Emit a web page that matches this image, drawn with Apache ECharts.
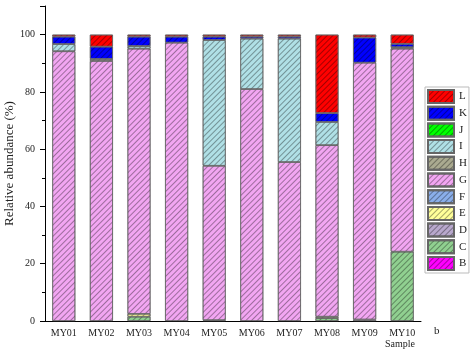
<!DOCTYPE html>
<html>
<head>
<meta charset="utf-8">
<script src="https://cdn.jsdelivr.net/npm/echarts@6/dist/echarts.min.js"></script>
<style>
  html, body { margin: 0; padding: 0; background: #fff; }
  #chart { width: 472px; height: 354px; }
</style>
</head>
<body>
<div id="chart"></div>
<script>
// samples along x
const samples = ['MY01', 'MY02', 'MY03', 'MY04', 'MY05', 'MY06', 'MY07', 'MY08', 'MY09', 'MY10'];

// relative abundance (%) per group, stacked bottom (B) to top (L)
const B = [0, 0, 0, 0, 0, 0, 0, 0, 0, 0];
const C = [0, 0, 1.5, 0, 0, 0, 0, 1.0, 0, 24.2];
const D = [0, 0, 0, 0, 0.3, 0, 0, 0, 0.5, 0];
const E = [0, 0, 1.0, 0, 0, 0, 0, 0.5, 0, 0];
const F = [0, 0, 0, 0, 0, 0, 0, 0, 0, 0];
const G = [94.2, 90.8, 92.6, 97.2, 53.9, 81.0, 55.5, 59.9, 89.7, 70.9];
const H = [0, 0.7, 0, 0, 0, 0, 0, 0, 0, 0.5];
const I = [2.5, 0, 0.9, 0, 43.9, 17.6, 43.1, 8.1, 0, 0];
const J = [0, 0, 0, 0, 0, 0, 0, 0, 0, 0];
const K = [2.6, 4.3, 3.3, 2.1, 1.2, 0.7, 0.7, 3.1, 8.8, 1.2];
const L = [0.7, 4.2, 0.7, 0.7, 0.7, 0.7, 0.7, 27.4, 1.0, 3.2];

const groups = [
  ['B', B, '#FF00FF'],
  ['C', C, '#90D090'],
  ['D', D, '#B8A8CC'],
  ['E', E, '#FFFF99'],
  ['F', F, '#8AAEEA'],
  ['G', G, '#F2A6F2'],
  ['H', H, '#AAAA90'],
  ['I', I, '#B0E0E6'],
  ['J', J, '#00FF00'],
  ['K', K, '#0000FF'],
  ['L', L, '#FF0000']
];

const font = 'Liberation Serif, Times New Roman, serif';

const hatch = {
  symbol: 'rect',
  symbolSize: 1,
  color: 'rgba(0,0,0,0.35)',
  dashArrayX: [1, 0],
  dashArrayY: [1, 3],
  rotation: -Math.PI / 4
};

const chart = echarts.init(document.getElementById('chart'));

chart.setOption({
  animation: false,
  backgroundColor: '#fff',
  grid: { left: 45, right: 51, top: 6, bottom: 33, outerBoundsMode: 'none' },
  legend: {
    orient: 'vertical',
    left: 425,
    top: 87,
    padding: [2, 2, 2, 2],
    borderColor: '#bbb',
    borderWidth: 1,
    icon: 'rect',
    itemWidth: 26,
    itemHeight: 13,
    itemGap: 1.7,
    itemTextGap: 4,
    textStyle: { fontFamily: font, fontSize: 11, color: '#222' },
    data: groups.map(g => g[0]).reverse()
  },
  xAxis: {
    type: 'category',
    data: samples,
    axisLine: { lineStyle: { color: '#000', width: 1 } },
    axisTick: { show: false },
    axisLabel: { interval: 0, fontFamily: font, fontSize: 10, color: '#222', margin: 7 }
  },
  yAxis: {
    type: 'value',
    min: 0,
    max: 110,
    interval: 20,
    name: 'Relative abundance (%)',
    nameLocation: 'middle',
    nameGap: 29,
    nameMoveOverlap: false,
    nameTextStyle: { fontFamily: font, fontSize: 13, color: '#222' },
    axisLine: { show: true, lineStyle: { color: '#000', width: 1 } },
    axisTick: { show: true, length: 5, lineStyle: { color: '#000' } },
    minorTick: { show: true, splitNumber: 2, length: 3, lineStyle: { color: '#000' } },
    splitLine: { show: false },
    axisLabel: { fontFamily: font, fontSize: 10, color: '#222', showMaxLabel: false, margin: 10 }
  },
  graphic: [
    { type: 'text', left: 385, top: 339, style: { text: 'Sample', font: '10px ' + font, fill: '#222' } },
    { type: 'text', left: 434, top: 326, style: { text: 'b', font: '11px ' + font, fill: '#222' } }
  ],
  series: groups.map(g => ({
    name: g[0],
    type: 'bar',
    stack: 'total',
    barWidth: 23,
    data: g[1].map(v => (v === 0 ? '-' : v)),
    itemStyle: {
      color: g[2],
      borderColor: '#666',
      borderWidth: 0.7,
      decal: hatch
    }
  }))
});
</script>
</body>
</html>
